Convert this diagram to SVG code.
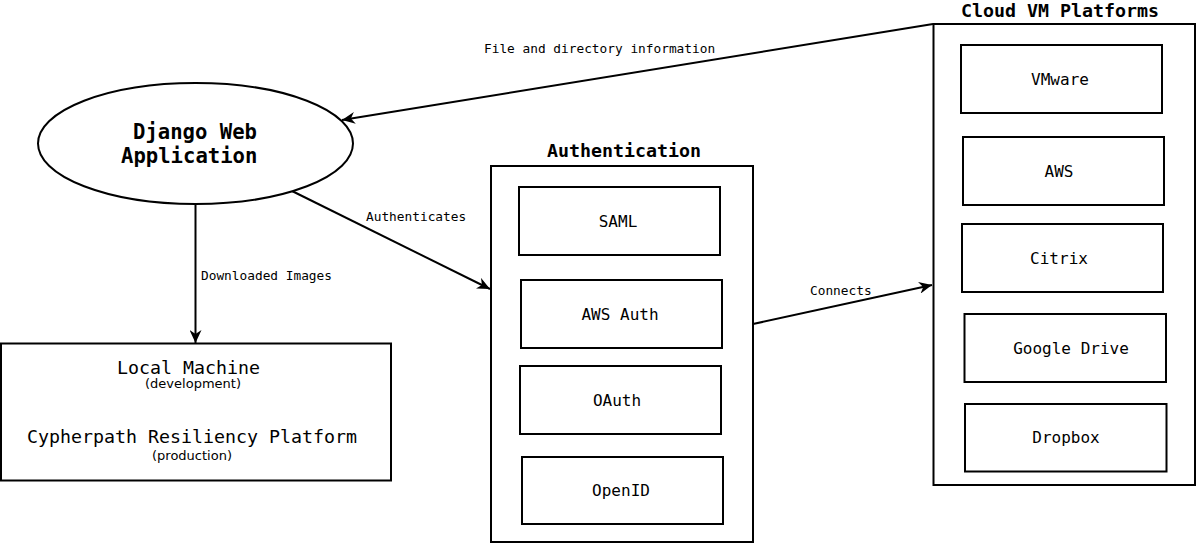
<svg xmlns="http://www.w3.org/2000/svg" width="1196" height="543" viewBox="0 0 1196 543">
<defs>
<marker id="arr" markerUnits="userSpaceOnUse" markerWidth="13" markerHeight="12" viewBox="0 0 13 12" refX="13" refY="6" orient="auto">
<path d="M0,0 L13,6 L0,12 L4,6 z" fill="#000"/>
</marker>
<style>
.box{fill:#fff;stroke:#000;stroke-width:2}
.m{font-family:"DejaVu Sans Mono","Liberation Mono",monospace;fill:#000}
.s{font-family:"DejaVu Sans","Liberation Sans",sans-serif;fill:#000;font-size:13px;text-anchor:middle}
.lbl{font-size:16px;text-anchor:middle}
.ttl{font-size:18.3px;font-weight:bold;text-anchor:middle}
.cl{font-size:12.8px}
.edge{fill:none;stroke:#000;stroke-width:2;marker-end:url(#arr)}
</style>
</defs>
<rect width="1196" height="543" fill="#fff"/>

<g id="connectors">
<line class="edge" x1="933" y1="24" x2="342" y2="120"/>
<line class="edge" x1="195.5" y1="204" x2="195.5" y2="343"/>
<line class="edge" x1="292" y1="191" x2="490" y2="289"/>
<line class="edge" x1="753" y1="324" x2="932" y2="285"/>
<text class="m cl" x="484" y="53">File and directory information</text>
<text class="m cl" x="201" y="280">Downloaded Images</text>
<text class="m cl" x="366" y="221">Authenticates</text>
<text class="m cl" x="810" y="295">Connects</text>
</g>

<g id="django">
<ellipse class="box" cx="195.5" cy="143.5" rx="157.5" ry="60.5"/>
<text class="m" x="133" y="139" font-size="20.6" font-weight="bold">Django Web</text>
<text class="m" x="121" y="163" font-size="20.6" font-weight="bold">Application</text>
</g>

<g id="local">
<rect class="box" x="1" y="343.5" width="390" height="137"/>
<text class="m" x="188.5" y="374" font-size="18.3" text-anchor="middle">Local Machine</text>
<text class="s" x="193" y="388">(development)</text>
<text class="m" x="192" y="443" font-size="18.3" text-anchor="middle">Cypherpath Resiliency Platform</text>
<text class="s" x="192" y="460">(production)</text>
</g>

<g id="authentication">
<text class="m ttl" x="624" y="157">Authentication</text>
<rect class="box" x="491" y="166" width="262" height="376"/>
</g>
<g id="saml">
<rect class="box" x="519" y="187" width="201" height="68"/>
<text class="m lbl" x="618" y="227">SAML</text>
</g>
<g id="awsauth">
<rect class="box" x="521" y="280" width="201" height="68"/>
<text class="m lbl" x="620" y="320">AWS Auth</text>
</g>
<g id="oauth">
<rect class="box" x="520" y="366" width="201" height="68"/>
<text class="m lbl" x="617" y="406">OAuth</text>
</g>
<g id="openid">
<rect class="box" x="522" y="457" width="201" height="67"/>
<text class="m lbl" x="621" y="496">OpenID</text>
</g>

<g id="cloud">
<text class="m ttl" x="1060" y="17">Cloud VM Platforms</text>
<rect class="box" x="933.5" y="24" width="261.5" height="461"/>
</g>
<g id="vmware">
<rect class="box" x="961" y="45" width="201" height="68"/>
<text class="m lbl" x="1060" y="85">VMware</text>
</g>
<g id="aws">
<rect class="box" x="963" y="137" width="201" height="68"/>
<text class="m lbl" x="1059" y="177">AWS</text>
</g>
<g id="citrix">
<rect class="box" x="962" y="224" width="201" height="68"/>
<text class="m lbl" x="1059" y="264">Citrix</text>
</g>
<g id="googledrive">
<rect class="box" x="964.5" y="314" width="201.5" height="68"/>
<text class="m lbl" x="1071" y="354">Google Drive</text>
</g>
<g id="dropbox">
<rect class="box" x="965" y="404" width="201.5" height="67.5"/>
<text class="m lbl" x="1066" y="443">Dropbox</text>
</g>
</svg>
